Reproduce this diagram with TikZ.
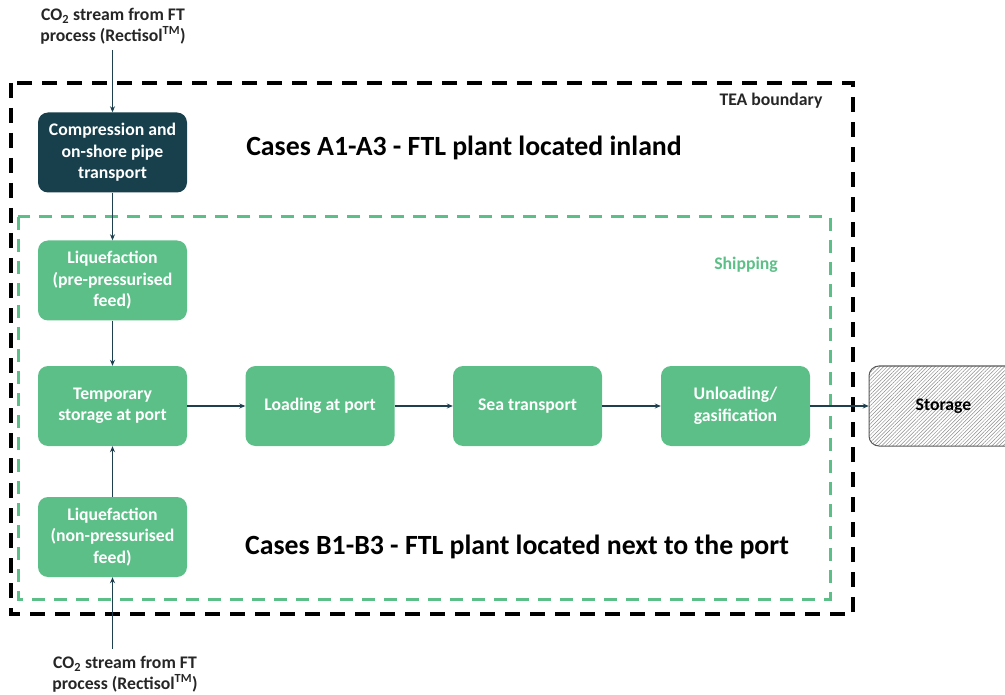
\documentclass[tikz,border=0pt]{standalone}
\usepackage{fontspec}
\setmainfont{Carlito}
\usetikzlibrary{arrows.meta,patterns.meta}
\definecolor{grn}{HTML}{5DBF88}
\definecolor{dk}{HTML}{173F4C}
\definecolor{arr}{HTML}{1E3F4E}
\begin{document}
\begin{tikzpicture}[x=1pt,y=-1pt,
  box/.style={rounded corners=10pt, minimum width=149pt, minimum height=80pt, align=center, text=white, font=\fontsize{17.7}{21.5}\selectfont\bfseries, inner sep=2pt},
  gbox/.style={box, fill=grn},
  conn/.style={draw=arr, line width=1.2pt, -{Stealth[length=6pt,width=5pt]}},
  lbl/.style={align=center, font=\fontsize{17.7}{20.5}\selectfont\bfseries, text=black!85},
  title/.style={font=\fontsize{27.8}{32}\selectfont\bfseries, text=black}]
\useasboundingbox (0,0) rectangle (1005,695);
% boundaries
\draw[line width=3.5pt, dash pattern=on 15pt off 10pt] (11,83) rectangle (853,614);
\draw[grn, line width=3pt, dash pattern=on 13pt off 9pt] (18,217) rectangle (830,599);
\node[lbl] (tea) at (771,101) {TEA boundary};
\node[lbl, text=grn] (ship) at (746,265) {Shipping};
\node[title] (ta) at (464,148) {Cases A1-A3 - FTL plant located inland};
\node[title] (tb) at (517,547) {Cases B1-B3 - FTL plant located next to the port};
% boxes
\node[box, fill=dk] (comp) at (112.5,152.5) {Compression and\\on-shore pipe\\transport};
\node[gbox] (liqp) at (112.5,280.5) {Liquefaction\\(pre-pressurised\\feed)};
\node[gbox] (temp) at (112.5,406) {Temporary\\storage at port};
\node[gbox] (load) at (320,406) {Loading at port};
\node[gbox] (sea) at (527.5,406) {Sea transport};
\node[gbox] (unl) at (735.5,406) {Unloading/\\gasification};
\node[box, draw=black!65, line width=1pt, pattern={Lines[angle=45,distance=2.6pt,line width=0.5pt]}, pattern color=black!45, text=black] (sto) at (943.5,406) {Storage};
\node[gbox] (liqn) at (112.5,537) {Liquefaction\\(non-pressurised\\feed)};
% inputs
\node[lbl] (intop) at (113,26) {CO\textsubscript{2} stream from FT\\process (Rectisol\textsuperscript{TM})};
\node[lbl] (inbot) at (125,674) {CO\textsubscript{2} stream from FT\\process (Rectisol\textsuperscript{TM})};
\coordinate (ctop) at (112.5,50);
\coordinate (cbot) at (112.5,649);
% connectors
\draw[conn] (ctop) -- (comp.north);
\draw[conn] (comp.south) -- (liqp.north);
\draw[conn] (liqp.south) -- (temp.north);
\draw[conn] (cbot) -- (liqn.south);
\draw[conn] (liqn.north) -- (temp.south);
\draw[conn] (temp.east) -- (load.west);
\draw[conn] (load.east) -- (sea.west);
\draw[conn] (sea.east) -- (unl.west);
\draw[conn] (unl.east) -- (sto.west);
\end{tikzpicture}
\end{document}
